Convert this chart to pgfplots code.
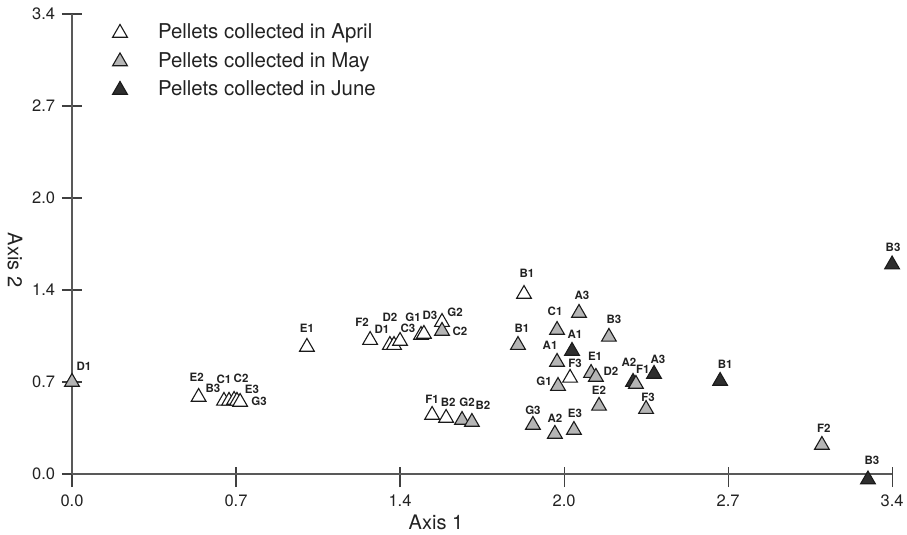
\documentclass[border=0pt]{standalone}
\usepackage{fontspec}
\setmainfont{TeX Gyre Heros}
\usepackage{pgfplots}
\usepackage{pgfplotstable}
\pgfplotsset{compat=1.18}
\definecolor{maygray}{HTML}{B5B5B5}
\definecolor{junedark}{HTML}{2E2E2E}
\definecolor{edgec}{HTML}{1A1A1A}
\definecolor{txt}{HTML}{222222}

\pgfplotstableread{
x y dx dy lab
0.525 0.569 -2 20 E2
0.630 0.540 -11 13 B3
0.651 0.540 -5 22 C1
0.672 0.547 7 22 C2
0.684 0.540 15 12 E3
0.697 0.532 19 1 G3
0.974 0.939 0 19 E1
1.236 0.990 -8 18 F2
1.318 0.953 -8 16 D1
1.335 0.953 -4 28 D2
1.360 0.983 8 13 C3
1.447 1.027 -8 18 G1
1.459 1.035 6 19 D3
1.534 1.123 13 10 G2
1.874 1.330 3 21 B1
2.065 0.710 5 15 F3
1.493 0.436 0 16 F1
1.551 0.414 2 16 B2
}\april

\pgfplotstableread{
x y dx dy lab
0.000 0.680 12 16 D1
1.534 1.057 18 0 C2
1.849 0.953 4 17 B1
2.011 1.064 -2 19 C1
2.102 1.190 3 18 A3
2.226 1.013 5 18 B3
2.011 0.828 -7 17 A1
2.015 0.650 -14 5 G1
2.152 0.746 4 17 E1
2.172 0.717 15 6 D2
2.185 0.503 0 16 E2
1.617 0.399 5 18 G2
1.658 0.384 11 17 B2
1.911 0.362 0 15 G3
2.002 0.296 0 16 A2
2.081 0.325 1 17 E3
2.338 0.665 7 15 F1
2.380 0.480 2 12 F3
3.109 0.214 2 17 F2
}\may

\pgfplotstableread{
x y dx dy lab
2.073 0.909 3 17 A1
2.326 0.680 -4 20 A2
2.413 0.739 4 15 A3
2.687 0.687 5 17 B1
3.300 -0.041 4 19 B3
3.400 1.548 1 17 B3
}\june

\begin{document}
\begin{tikzpicture}
\begin{axis}[
  x=241.2pt, y=135.3pt,
  xmin=0, xmax=3.4, ymin=0, ymax=3.4,
  axis lines*=left,
  axis line style={black!65, line width=1.1pt},
  clip=false,
  xtick={0,0.68,1.36,2.04,2.72,3.4},
  xticklabels={0.0,0.7,1.4,2.0,2.7,3.4},
  ytick={0,0.68,1.36,2.04,2.72,3.4},
  yticklabels={0.0,0.7,1.4,2.0,2.7,3.4},
  tick align=center,
  major tick length=20pt,
  every tick/.style={black!75, line width=1.1pt},
  xtick style={yshift=-3pt},
  /pgf/number format/assume math mode=true,
  tick label style={font=\fontsize{16.5}{18}\selectfont, text=txt, inner sep=0pt},
  xticklabel style={anchor=north, yshift=-11pt},
  yticklabel style={anchor=east, xshift=-6.7pt},
  every axis x label/.style={at={(axis cs:1.509,-0.359)}, anchor=center},
  every axis y label/.style={at={(axis cs:-0.236,1.582)}, rotate=-90, anchor=center},
  xlabel={Axis 1}, ylabel={Axis 2},
  label style={font=\fontsize{20}{24}\selectfont, text=txt, inner sep=0pt},
  legend image code/.code={\path[draw=none, fill=none] (-9pt,-10pt) rectangle (24pt,10pt); \draw[#1] plot coordinates {(0pt,0pt)};},
  legend style={draw=none, fill=none, inner sep=0pt, outer sep=0pt,
    at={(0.04756,0.98265)}, anchor=north west,
    font=\fontsize{20.4}{24}\selectfont, text=txt,
    row sep=6.5pt, column sep=14pt,
    nodes={inner sep=0pt, text height=17pt, text depth=5pt}},
  legend cell align=left,
  mk/.style={only marks, mark=triangle*, mark size=8.5pt},
  lbl/.style={only marks, mark=none, forget plot, nodes near coords,
    point meta=explicit symbolic,
    visualization depends on={\thisrow{dx}\as\dxx},
    visualization depends on={\thisrow{dy}\as\dyy},
    every node near coord/.append style={font=\fontsize{11.5}{13}\bfseries\selectfont,
      text=txt, inner sep=0pt, anchor=center, xshift=\dxx*1pt, yshift=\dyy*1pt}},
]
\addlegendimage{mk, mark options={solid, fill=white, draw=edgec, line width=1.1pt}}
\addlegendentry{Pellets collected in April}
\addlegendimage{mk, mark options={solid, fill=maygray, draw=edgec, line width=1.1pt}}
\addlegendentry{Pellets collected in May}
\addlegendimage{mk, mark options={solid, fill=junedark, draw=edgec, line width=1.1pt}}
\addlegendentry{Pellets collected in June}

\addplot[mk, forget plot, mark options={solid, fill=white, draw=edgec, line width=1.1pt}] table[x=x,y=y] {\april};
\addplot[mk, forget plot, mark options={solid, fill=junedark, draw=edgec, line width=1.1pt}] table[x=x,y=y] {\june};
\addplot[mk, forget plot, mark options={solid, fill=maygray, draw=edgec, line width=1.1pt}] table[x=x,y=y] {\may};

\addplot[lbl] table[x=x,y=y,meta=lab] {\april};
\addplot[lbl] table[x=x,y=y,meta=lab] {\may};
\addplot[lbl] table[x=x,y=y,meta=lab] {\june};

\coordinate (O) at (axis cs:0,0);
\end{axis}
\pgfresetboundingbox
\path[use as bounding box] (O) ++(-72pt,-61pt) rectangle ++(907pt,535pt);
\end{tikzpicture}
\end{document}
